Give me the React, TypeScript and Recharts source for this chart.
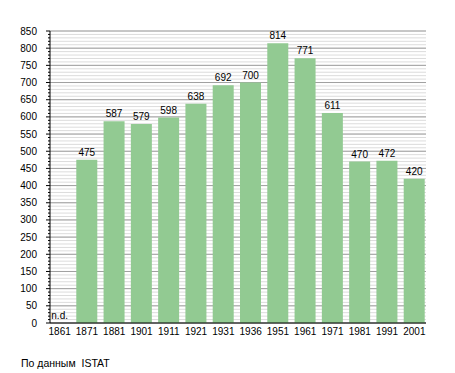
import React from "react";
import { BarChart, Bar, XAxis, YAxis, CartesianGrid, LabelList, ReferenceDot } from "recharts";

const years = ["1861", "1871", "1881", "1901", "1911", "1921", "1931", "1936", "1951", "1961", "1971", "1981", "1991", "2001"];
const population: (number | null)[] = [null, 475, 587, 579, 598, 638, 692, 700, 814, 771, 611, 470, 472, 420];
const minorTicks = Array.from({ length: 86 }, (_, i) => i * 10);
const majorTicks = Array.from({ length: 18 }, (_, i) => i * 50);
const noDataLabel = "n.d.";
const sourceNote = "По данным  ISTAT";

const data = years.map((y, i) => ({ year: y, value: population[i] }));

const FONT = "'Liberation Sans', Arial, sans-serif";

const YTick = (props: any) => {
  const { x, y, payload } = props;
  const v = payload.value as number;
  const major = v % 50 === 0;
  return (
    <g>
      <line x1={x - (major ? 4 : 2)} x2={x} y1={y} y2={y} stroke="#000" strokeWidth={1} />
      {major && (
        <text x={x - 13} y={y} dy="0.35em" textAnchor="end" fontSize={10} fontFamily={FONT} fill="#000">
          {v}
        </text>
      )}
    </g>
  );
};

export default function App() {
  return (
    <div style={{ position: "absolute", left: 0, top: 0, width: 455, height: 373, background: "#fff" }}>
      <BarChart
        width={455}
        height={350}
        data={data}
        margin={{ top: 31, right: 29, bottom: 0, left: 0 }}
        barCategoryGap={3}
      >
        <CartesianGrid horizontal vertical={false} horizontalValues={minorTicks} stroke="#dcdcdc" strokeWidth={1} />
        <CartesianGrid horizontal vertical={false} horizontalValues={majorTicks} stroke="#a0a0a0" strokeWidth={1} />
        <XAxis
          dataKey="year"
          padding={{ left: -4, right: -2 }}
          tickLine={false}
          tickSize={3}
          tickMargin={2}
          height={27}
          interval={0}
          axisLine={{ stroke: "#000", strokeWidth: 1 }}
          tick={{ fontSize: 10, fontFamily: FONT, fill: "#000" }}
        />
        <YAxis
          width={50}
          domain={[0, 850]}
          ticks={minorTicks}
          interval={0}
          tickLine={false}
          tickSize={0}
          tickMargin={0}
          axisLine={{ stroke: "#000", strokeWidth: 1 }}
          tick={<YTick />}
        />
        <Bar dataKey="value" fill="#92ca92" barSize={21} isAnimationActive={false}>
          <LabelList dataKey="value" position="top" offset={4} style={{ fontSize: 10, fontFamily: FONT, fill: "#000" }} />
        </Bar>
        <ReferenceDot
          x="1861"
          y={0}
          r={0}
          fill="none"
          stroke="none"
          ifOverflow="visible"
          label={{ value: noDataLabel, position: "top", offset: 4, fontSize: 10, fontFamily: FONT, fill: "#000" }}
        />
      </BarChart>
      <div style={{ position: "absolute", left: 21, top: 357, fontSize: 10.5, lineHeight: "12px", fontFamily: FONT, color: "#000", whiteSpace: "pre" }}>
        {sourceNote}
      </div>
    </div>
  );
}
